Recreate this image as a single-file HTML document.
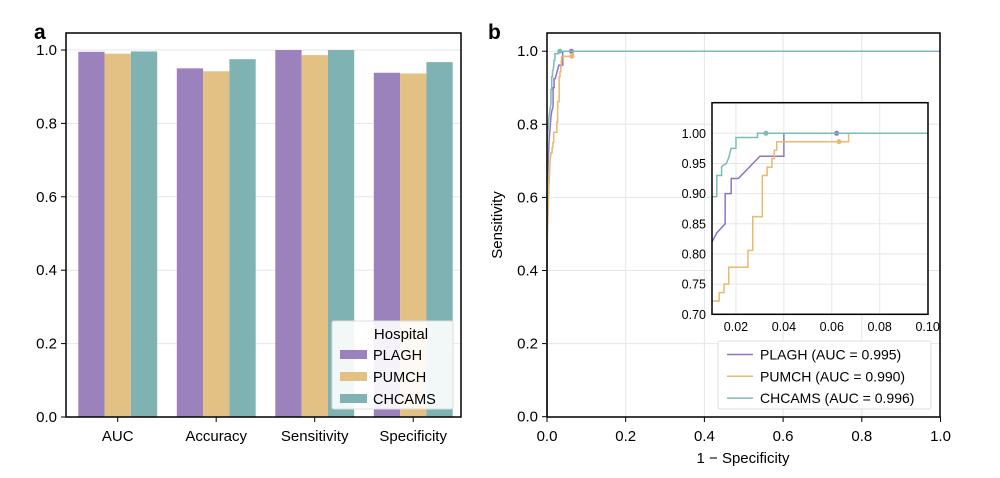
<!DOCTYPE html>
<html><head><meta charset="utf-8"><style>
html,body{margin:0;padding:0;background:#fff;width:1000px;height:478px;overflow:hidden}
svg{display:block;font-family:"Liberation Sans",Arial,sans-serif}
</style></head><body>
<svg id="s" width="1000" height="478" viewBox="0 0 1000 478" xmlns="http://www.w3.org/2000/svg"></svg>
<script>
const S=document.getElementById('s');let h='';
const C1='#9b82bd',C2='#e3c083',C3='#7fb2b3';
const L1='#8e74c6',L2='#e9b96c',L3='#7cbcb6';
const ay=v=>417-v*367;
h+='<text x="34" y="39" font-size="21" font-weight="bold">a</text>';
for(const v of [0,.2,.4,.6,.8,1]){const y=ay(v);h+=`<line x1="66" x2="461" y1="${y}" y2="${y}" stroke="#e6e6e6"/>`;
h+=`<line x1="61" x2="66" y1="${y}" y2="${y}" stroke="#000"/><text x="57" y="${y+5}" font-size="15" text-anchor="end">${v.toFixed(1)}</text>`;}
const vals=[[.995,.990,.996],[.95,.942,.975],[1,.986,1],[.938,.936,.967]];
const names=['AUC','Accuracy','Sensitivity','Specificity'];
const cs=[C1,C2,C3];
vals.forEach((g,i)=>{const c=117.7+i*98.5;g.forEach((v,j)=>{const x=c-39.4+j*26.3;h+=`<rect x="${x}" y="${ay(v)}" width="26.3" height="${417-ay(v)}" fill="${cs[j]}"/>`});
h+=`<line x1="${c}" x2="${c}" y1="417" y2="422" stroke="#000"/><text x="${c}" y="441" font-size="15" text-anchor="middle">${names[i]}</text>`;});
h+='<rect x="66" y="33" width="395" height="384" fill="none" stroke="#000" stroke-width="1.5"/>';
h+='<rect x="332" y="321" width="121" height="88" fill="#fff" fill-opacity="0.9" stroke="#ddd" rx="2"/>';
h+='<text x="401" y="339" font-size="15" text-anchor="middle">Hospital</text>';
['PLAGH','PUMCH','CHCAMS'].forEach((n,i)=>{const y=355+i*22;h+=`<rect x="340" y="${y-5}" width="27" height="9" fill="${cs[i]}"/><text x="373" y="${y+5}" font-size="14.5">${n}</text>`});
const bx=v=>547+v*393.5,by=v=>416.7-v*365.5;
h+='<text x="488" y="39" font-size="21" font-weight="bold">b</text>';
for(const v of [0,.2,.4,.6,.8,1]){const x=bx(v),y=by(v);
h+=`<line x1="${x}" x2="${x}" y1="33" y2="417" stroke="#e6e6e6"/><line x1="547" x2="940" y1="${y}" y2="${y}" stroke="#e6e6e6"/>`;
h+=`<line x1="542" x2="547" y1="${y}" y2="${y}" stroke="#000"/><text x="538" y="${y+5}" font-size="15" text-anchor="end">${v.toFixed(1)}</text>`;
h+=`<line x1="${x}" x2="${x}" y1="417" y2="422" stroke="#000"/><text x="${x}" y="441" font-size="15" text-anchor="middle">${v.toFixed(1)}</text>`;}
h+='<text x="743" y="463" font-size="15" text-anchor="middle">1 − Specificity</text>';
h+='<text transform="translate(502,225) rotate(-90)" font-size="15" text-anchor="middle">Sensitivity</text>';
const P1=[[0,0],[0,.6],[.005,.75],[.01,.82],[.012,.835],[.0155,.85],[.0155,.9],[.018,.9],[.018,.925],[.021,.925],[.03,.962],[.04,.962],[.04,1],[.062,1],[1,1]];
const P2=[[0,0],[0,.45],[.004,.6],[.008,.7],[.01,.722],[.013,.722],[.013,.736],[.015,.736],[.015,.75],[.017,.75],[.017,.778],[.025,.778],[.025,.806],[.027,.806],[.027,.862],[.031,.862],[.031,.93],[.033,.93],[.033,.944],[.035,.944],[.035,.958],[.036,.958],[.036,.972],[.037,.972],[.037,.986],[.067,.986],[.067,1],[1,1]];
const P3=[[0,0],[0,.75],[.005,.82],[.01,.857],[.01,.895],[.012,.895],[.012,.93],[.014,.93],[.014,.945],[.016,.95],[.017,.96],[.018,.975],[.02,.975],[.02,.993],[.029,.993],[.029,1],[1,1]];
const dots=[[.062,1],[.063,.986],[.0325,1]];
const Ls=[L1,L2,L3];
[P1,P2,P3].forEach((P,i)=>{h+=`<polyline fill="none" stroke="${Ls[i]}" stroke-width="1.5" points="${P.map(p=>bx(p[0])+','+by(p[1])).join(' ')}"/>`;
h+=`<circle cx="${bx(dots[i][0])}" cy="${by(dots[i][1])}" r="2.5" fill="${Ls[i]}"/>`;});
h+='<rect x="547" y="33" width="393" height="384" fill="none" stroke="#000" stroke-width="1.5"/>';
const ix=v=>712+(v-.01)*2396,iy=v=>314.3-(v-.7)*603.3;
h+='<rect x="712" y="102.7" width="216" height="211.6" fill="#fff"/>';
h+='<clipPath id="ic"><rect x="712" y="102.7" width="216" height="211.6"/></clipPath>';
for(const v of [.02,.04,.06,.08,.1]){const x=ix(v);h+=`<line x1="${x}" x2="${x}" y1="102.7" y2="314.3" stroke="#e6e6e6"/><text x="${x}" y="331" font-size="12.5" text-anchor="middle">${v.toFixed(2)}</text>`;}
for(const v of [.7,.75,.8,.85,.9,.95,1]){const y=iy(v);h+=`<line x1="712" x2="928" y1="${y}" y2="${y}" stroke="#e6e6e6"/><text x="706" y="${y+4.5}" font-size="12.5" text-anchor="end">${v.toFixed(2)}</text>`;}
h+='<g clip-path="url(#ic)">';
[P1,P2,P3].forEach((P,i)=>{h+=`<polyline fill="none" stroke="${Ls[i]}" stroke-width="1.5" points="${P.map(p=>ix(p[0])+','+iy(p[1])).join(' ')}"/>`;
h+=`<circle cx="${ix(dots[i][0])}" cy="${iy(dots[i][1])}" r="2.5" fill="${Ls[i]}"/>`;});
h+='</g><rect x="712" y="102.7" width="216" height="211.6" fill="none" stroke="#000" stroke-width="1.5"/>';
h+='<rect x="718" y="341" width="213" height="68" fill="#fff" fill-opacity="0.9" stroke="#ddd" rx="2"/>';
['PLAGH (AUC = 0.995)','PUMCH (AUC = 0.990)','CHCAMS (AUC = 0.996)'].forEach((n,i)=>{const y=354.5+i*21.8;h+=`<line x1="727" x2="753" y1="${y}" y2="${y}" stroke="${Ls[i]}" stroke-width="1.5"/><text x="760" y="${y+5}" font-size="14">${n}</text>`});
S.innerHTML=h;
</script>
</body></html>
